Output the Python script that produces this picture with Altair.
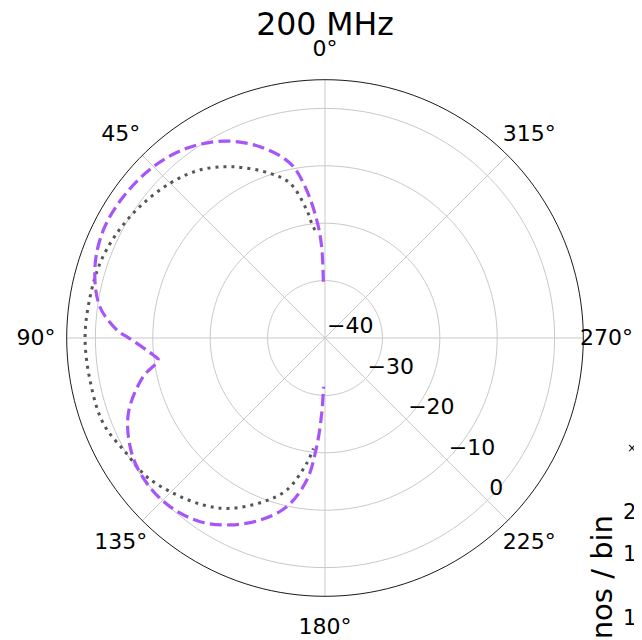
import altair as alt
import numpy as np
import pandas as pd

# ---------------- data ----------------
title_text = "200 MHz"

# purple dashed pattern: angle (deg, CCW from top) and gain (dB)
theta_purple = [1.7, 2.1, 4.0, 7.5, 11.3, 18.8, 27.3, 36.1, 45.1, 55.0, 64.0, 72.8,
                82.1, 88.2, 89.6, 95.7, 97.5, 102.0, 111.0, 120.8, 129.2, 137.4,
                145.8, 153.0, 160.3, 167.2, 172.7, 175.6, 177.5, 178.3]
db_purple = [-30.2, -24.1, -19.4, -13.4, -8.95, -4.8, -1.4, 0.9, 2.25, 2.9, 2.95, 1.95,
             -0.4, -4.0, -5.45, -9.95, -10.7, -7.6, -3.3, -0.8, 0.05, -0.1,
             -1.3, -3.45, -6.3, -9.85, -15.05, -21.0, -26.85, -31.5]

# gray dotted pattern
theta_gray = [5.3, 6.6, 8.1, 12.7, 18.5, 28.2, 36.7, 45.0, 54.6, 63.3, 71.6, 80.0,
              89.7, 100.0, 111.0, 120.2, 127.9, 135.7, 143.9, 150.8, 159.3, 165.9,
              171.7, 174.0]
db_gray = [-21.1, -19.9, -17.5, -12.4, -9.75, -6.15, -3.5, -1.85, -0.45, 0.6, 1.3, 1.55,
           1.8, 1.6, 1.4, 0.0, -0.65, -2.2, -4.0, -6.0, -9.5, -12.7, -17.95, -20.65]

ring_values = [-30, -20, -10, 0]
radial_tick_values = [-40, -30, -20, -10, 0]
radial_tick_labels = ["−40", "−30", "−20", "−10", "0"]
spoke_angles = [0, 45, 90, 135, 180, 225, 270, 315]
spoke_labels = ["0°", "45°", "90°", "135°", "180°", "225°", "270°", "315°"]

# clipped neighbouring panel (only its left edge is visible)
side_tick_labels = ["2.0", "1.5", "1.0"]
side_offset_text = "×10"
side_ylabel = "Neutrinos / bin"

# ---------------- layout constants ----------------
R_MIN, R_MAX = -40, 5
PX = 5.74                 # pixels per dB
W, H = 626, 632
CX, CY = 317, 330         # pole position inside the svg
XDOM = [-CX / PX, (W - CX) / PX]
YDOM = [-(H - CY) / PX, CY / PX]
R_LABEL = 289 / PX        # radius of the angle labels (in dB-span units)
LABEL_XMAX = (W - CX - 27.5) / PX   # keep angle labels inside the canvas
FONT = "DejaVu Sans"

xs = alt.Scale(domain=XDOM, nice=False, zero=False)
ys = alt.Scale(domain=YDOM, nice=False, zero=False)


def X(f):
    return alt.X(f"{f}:Q", scale=xs, axis=None)


def Y(f):
    return alt.Y(f"{f}:Q", scale=ys, axis=None)


def polar(ch, rexpr, aexpr):
    return (ch.transform_calculate(rr=rexpr)
              .transform_calculate(px=f"-datum.rr*sin(({aexpr})*PI/180)")
              .transform_calculate(py=f"datum.rr*cos(({aexpr})*PI/180)"))


# grid circles
grid_angles = list(range(0, 361, 2))
rings_df = pd.DataFrame([(v, a) for v in ring_values for a in grid_angles], columns=["value", "angle"])
outer_df = pd.DataFrame([(R_MAX, a) for a in grid_angles], columns=["value", "angle"])

rings = polar(alt.Chart(rings_df), f"datum.value-({R_MIN})", "datum.angle").mark_line(
    stroke="#c9c9c9", strokeWidth=1).encode(x=X("px"), y=Y("py"), detail="value:N", order="angle:Q")

outer = polar(alt.Chart(outer_df), f"datum.value-({R_MIN})", "datum.angle").mark_line(
    stroke="#000000", strokeWidth=0.9).encode(x=X("px"), y=Y("py"), detail="value:N", order="angle:Q")

spokes_df = pd.DataFrame({"angle": spoke_angles})
spokes = (alt.Chart(spokes_df)
          .transform_calculate(x0="0", y0="0")
          .transform_calculate(x1=f"-({R_MAX - R_MIN})*sin(datum.angle*PI/180)")
          .transform_calculate(y1=f"({R_MAX - R_MIN})*cos(datum.angle*PI/180)")
          .mark_rule(stroke="#c9c9c9", strokeWidth=1)
          .encode(x=X("x0"), y=Y("y0"), x2=alt.X2("x1:Q"), y2=alt.Y2("y1:Q")))

gray_df = pd.DataFrame({"theta": theta_gray, "db": db_gray})
purple_df = pd.DataFrame({"theta": theta_purple, "db": db_purple})

gray = polar(alt.Chart(gray_df), f"datum.db-({R_MIN})", "datum.theta").mark_line(
    stroke="#555555", strokeWidth=3, strokeDash=[3, 5], interpolate="catmull-rom").encode(
    x=X("px"), y=Y("py"), order="theta:Q")

purple = polar(alt.Chart(purple_df), f"datum.db-({R_MIN})", "datum.theta").mark_line(
    stroke="#a855f7", strokeWidth=3.2, strokeDash=[12, 5.3], interpolate="catmull-rom").encode(
    x=X("px"), y=Y("py"), order="theta:Q")

ang_df = pd.DataFrame({"angle": spoke_angles, "label": spoke_labels})
ang_labels = (polar(alt.Chart(ang_df), f"{R_LABEL}", "datum.angle")
              .transform_calculate(lx=f"min(datum.px, {LABEL_XMAX})")
              .mark_text(font=FONT, fontSize=22, align="center", baseline="middle", color="#000000")
              .encode(x=X("lx"), y=Y("py"), text="label:N"))

rad_df = pd.DataFrame({"value": radial_tick_values, "label": radial_tick_labels})
rad_labels = polar(alt.Chart(rad_df), f"datum.value-({R_MIN})", "225").mark_text(
    font=FONT, fontSize=22, align="left", baseline="bottom", dx=2, color="#000000").encode(
    x=X("px"), y=Y("py"), text="label:N")

title_df = pd.DataFrame({"t": [title_text], "x": [0.0], "y": [(CY - 35 + 8) / PX]})
title = alt.Chart(title_df).mark_text(
    font=FONT, fontSize=31.5, align="center", baseline="alphabetic", color="#000000").encode(
    x=X("x"), y=Y("y"), text="t:N")

# neighbouring panel fragments (positions in the same units)
side_df = pd.DataFrame({
    "t": side_tick_labels,
    "x": [(623 - 8 - CX) / PX] * 3,
    "y": [(CY - (512.5 - 8)) / PX, (CY - (555 - 8)) / PX, (CY - (618.5 - 8)) / PX],
})
side_ticks = alt.Chart(side_df).mark_text(
    font=FONT, fontSize=21, align="left", baseline="middle", color="#000000").encode(
    x=X("x"), y=Y("y"), text="t:N")

off_df = pd.DataFrame({"t": [side_offset_text], "x": [(627 - 8 - CX) / PX], "y": [(CY - (447.5 - 8)) / PX]})
side_off = alt.Chart(off_df).mark_text(
    font=FONT, fontSize=12, align="left", baseline="middle", color="#000000").encode(
    x=X("x"), y=Y("y"), text="t:N")

yl_df = pd.DataFrame({"t": [side_ylabel], "x": [(612 - 8 - CX) / PX], "y": [(CY - (515 - 8)) / PX]})
side_yl = alt.Chart(yl_df).mark_text(
    font=FONT, fontSize=29, align="right", baseline="alphabetic", angle=270, color="#000000").encode(
    x=X("x"), y=Y("y"), text="t:N")

chart = alt.layer(
    rings, spokes, outer, gray, purple, ang_labels, rad_labels, title,
    side_ticks, side_off, side_yl
).properties(
    width=W, height=H, padding=0, autosize=alt.AutoSizeParams(type="none")
).configure(background="white").configure_view(stroke=None)

chart.save("out.html", embed_options={"renderer": "svg", "actions": False})
